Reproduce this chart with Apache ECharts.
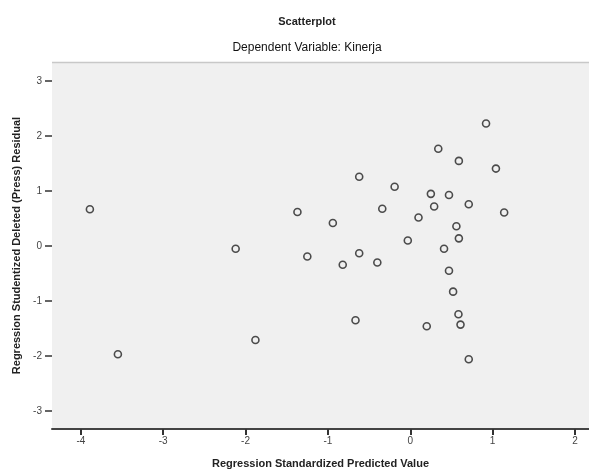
<!DOCTYPE html>
<html>
<head>
<meta charset="utf-8">
<script src="https://cdn.jsdelivr.net/npm/echarts@6/dist/echarts.min.js"></script>
<style>html,body{margin:0;padding:0;background:#fff}#c{width:589px;height:474px}</style>
</head>
<body>
<div id="c"></div>
<script>
const predicted = [-3.89,-3.55,-2.12,-1.88,-1.37,-1.25,-0.94,-0.82,-0.665,-0.62,-0.62,-0.40,-0.34,-0.19,-0.03,0.10,0.20,0.25,0.29,0.34,0.41,0.47,0.47,0.52,0.56,0.585,0.59,0.59,0.61,0.71,0.71,0.92,1.04,1.14];
const residual = [0.67,-1.97,-0.05,-1.71,0.62,-0.19,0.42,-0.34,-1.35,1.26,-0.13,-0.30,0.68,1.08,0.10,0.52,-1.46,0.95,0.72,1.77,-0.05,0.93,-0.45,-0.83,0.36,-1.24,1.55,0.14,-1.43,0.76,-2.06,2.23,1.41,0.61];
const xTicks = [-4,-3,-2,-1,0,1,2];
const yTicks = [-3,-2,-1,0,1,2,3];
const titleText = 'Scatterplot';
const subtitleText = 'Dependent Variable: Kinerja';
const xName = 'Regression Standardized Predicted Value';
const yName = 'Regression Studentized Deleted (Press) Residual';

const points = predicted.map((v, i) => [v, residual[i]]);
const font = 'Liberation Sans, Arial, sans-serif';
const chart = echarts.init(document.getElementById('c'), null, {renderer: 'canvas'});
chart.setOption({
  animation: false,
  backgroundColor: '#ffffff',
  title: [
    {text: titleText, left: 302, top: 11, textAlign: 'center',
     textStyle: {fontSize: 11, fontWeight: 'bold', color: '#222', fontFamily: font}},
    {text: subtitleText, left: 302, top: 37, textAlign: 'center',
     textStyle: {fontSize: 12, fontWeight: 'normal', color: '#111', fontFamily: font}}
  ],
  grid: {left: 52, top: 62, right: 0, bottom: 44, show: true, backgroundColor: '#f0f0f0',
         borderWidth: 0},
  xAxis: {
    type: 'value', min: -4.35, max: 2.17,
    name: xName, nameLocation: 'middle', nameGap: 29,
    nameTextStyle: {fontSize: 11, fontWeight: 'bold', color: '#222', fontFamily: font},
    axisLine: {show: true, onZero: false, lineStyle: {color: '#444', width: 2}},
    axisTick: {show: true, length: 6, lineStyle: {color: '#333', width: 2},
               customValues: xTicks},
    axisLabel: {color: '#444', fontSize: 10, margin: 7, fontFamily: font,
                customValues: xTicks, showMinLabel: true, showMaxLabel: true},
    splitLine: {show: false}
  },
  yAxis: {
    type: 'value', min: -3.33, max: 3.35,
    name: yName, nameLocation: 'middle', nameGap: 30,
    nameTextStyle: {fontSize: 11, fontWeight: 'bold', color: '#222', fontFamily: font},
    axisLine: {show: false, onZero: false},
    axisTick: {show: true, length: 7, lineStyle: {color: '#333', width: 1.5},
               customValues: yTicks},
    axisLabel: {color: '#444', fontSize: 10, margin: 10, fontFamily: font,
                customValues: yTicks},
    splitLine: {show: false}
  },
  graphic: [{
    type: 'line', shape: {x1: 52, y1: 62.5, x2: 589, y2: 62.5},
    style: {stroke: '#c8c8c8', lineWidth: 1.5}, z: 10
  }],
  series: [{
    type: 'scatter', data: points, symbol: 'circle', symbolSize: 7,
    itemStyle: {color: 'rgba(0,0,0,0)', borderColor: '#222', borderWidth: 1.6},
    emphasis: {disabled: true}
  }]
});
</script>
</body>
</html>
